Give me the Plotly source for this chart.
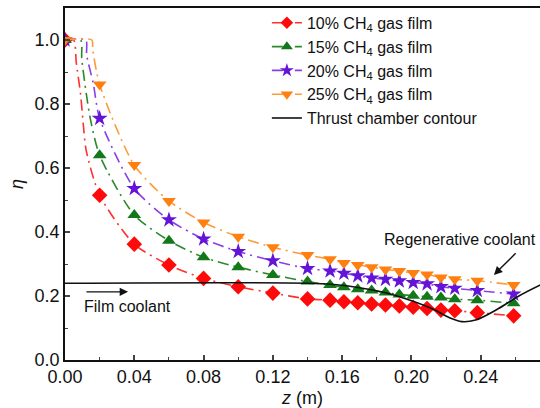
import plotly.graph_objects as go

# Axial positions (m) where the film-cooling effectiveness was sampled
z_samples = [0.0, 0.02, 0.04, 0.06, 0.08, 0.10, 0.12, 0.14, 0.153, 0.161, 0.169,
             0.177, 0.185, 0.193, 0.201, 0.209, 0.217, 0.225, 0.238, 0.259]

# Cooling effectiveness eta for each CH4 gas-film fraction
eta_10 = [1.0, 0.515, 0.362, 0.297, 0.255, 0.229, 0.209, 0.191, 0.187, 0.182, 0.179,
          0.175, 0.172, 0.169, 0.165, 0.161, 0.156, 0.154, 0.148, 0.138]
eta_15 = [1.0, 0.640, 0.453, 0.373, 0.321, 0.290, 0.266, 0.245, 0.234, 0.227, 0.221,
          0.217, 0.211, 0.205, 0.201, 0.198, 0.195, 0.190, 0.187, 0.177]
eta_20 = [1.0, 0.755, 0.536, 0.438, 0.378, 0.339, 0.310, 0.286, 0.278, 0.271, 0.263,
          0.256, 0.252, 0.247, 0.242, 0.238, 0.229, 0.224, 0.217, 0.206]
eta_25 = [1.0, 0.861, 0.609, 0.497, 0.430, 0.385, 0.352, 0.328, 0.315, 0.303, 0.297,
          0.290, 0.283, 0.278, 0.272, 0.267, 0.258, 0.252, 0.248, 0.234]

# Near-injector part of each curve (plateau and sharp drop), drawn as line only
knee_z_10 = [0.005, 0.0065, 0.009, 0.0105, 0.0122]
knee_eta_10 = [1.0, 0.93, 0.83, 0.74, 0.656]
knee_z_15 = [0.009, 0.0097, 0.0144]
knee_eta_15 = [1.0, 0.94, 0.76]
knee_z_20 = [0.012, 0.0125, 0.0163]
knee_eta_20 = [1.0, 0.953, 0.865]
knee_z_25 = [0.0155, 0.016]
knee_eta_25 = [1.0, 0.97]

# Thrust chamber wall contour (scaled onto the eta axis)
contour_z = [0.0, 0.14, 0.155, 0.17, 0.185, 0.20, 0.212, 0.222, 0.229, 0.237,
             0.25, 0.262, 0.275]
contour_eta = [0.24, 0.24, 0.236, 0.226, 0.21, 0.185, 0.16, 0.132, 0.12, 0.125,
               0.16, 0.2, 0.236]

series_names = ["10% CH<sub>4</sub> gas film", "15% CH<sub>4</sub> gas film",
                "20% CH<sub>4</sub> gas film", "25% CH<sub>4</sub> gas film"]
contour_name = "Thrust chamber contour"

FONT = "Liberation Sans, Arial, Helvetica, sans-serif"

styles = [
    dict(color="#ff0a0a", symbol="diamond", size=12),
    dict(color="#13781a", symbol="triangle-up", size=12),
    dict(color="#6414d6", symbol="star", size=12),
    dict(color="#ff8010", symbol="triangle-down", size=12),
]
line_colors = ["#ff3030", "#2a8a2a", "#8a3fe6", "#ff9a3a"]

all_eta = [eta_10, eta_15, eta_20, eta_25]
all_knee = [(knee_z_10, knee_eta_10), (knee_z_15, knee_eta_15),
            (knee_z_20, knee_eta_20), (knee_z_25, knee_eta_25)]

fig = go.Figure()

for name, eta, (kz, ke), st, lc in zip(series_names, all_eta, all_knee, styles, line_colors):
    # merge sampled points (with markers) and knee points (line only)
    pts = [(z, e, st["size"]) for z, e in zip(z_samples, eta)]
    pts += [(z, e, 0) for z, e in zip(kz, ke)]
    pts.sort(key=lambda p: p[0])
    fig.add_trace(go.Scatter(
        x=[p[0] for p in pts], y=[p[1] for p in pts],
        mode="lines+markers", name=name,
        line=dict(color=lc, width=1.6, dash="11px,5px,2px,5px",
                  shape="spline", smoothing=0.7),
        marker=dict(color=st["color"], symbol=st["symbol"], opacity=1,
                    size=[p[2] for p in pts], line=dict(width=0)),
    ))

fig.add_trace(go.Scatter(
    x=contour_z, y=contour_eta, mode="lines", name=contour_name,
    line=dict(color="#111111", width=1.6, shape="spline", smoothing=1.0),
))

# Film coolant label with arrow
fig.add_annotation(x=0.0364, y=0.213, ax=0.0115, ay=0.213, axref="x", ayref="y",
                   xref="x", yref="y", text="", showarrow=True,
                   arrowhead=2, arrowsize=1.2, arrowwidth=1.4, arrowcolor="#111111")
fig.add_annotation(x=0.0098, y=0.168, xref="x", yref="y", text="Film coolant",
                   showarrow=False, xanchor="left", yanchor="middle",
                   font=dict(family=FONT, size=16, color="#111111"))

# Regenerative coolant label with arrow
fig.add_annotation(x=0.2476, y=0.266, ax=0.261, ay=0.338, axref="x", ayref="y",
                   xref="x", yref="y", text="", showarrow=True,
                   arrowhead=2, arrowsize=1.2, arrowwidth=1.4, arrowcolor="#111111")
fig.add_annotation(x=0.2733, y=0.377, xref="x", yref="y", text="Regenerative coolant",
                   showarrow=False, xanchor="right", yanchor="middle",
                   font=dict(family=FONT, size=16, color="#111111"))

fig.update_layout(
    width=540, height=408,
    margin=dict(l=65, r=0, t=8, b=48),
    paper_bgcolor="white", plot_bgcolor="white",
    font=dict(family=FONT, color="#111111"),
    showlegend=True,
    legend=dict(x=0.425, y=1.006, xanchor="left", yanchor="top",
                bgcolor="rgba(0,0,0,0)", borderwidth=0,
                font=dict(family=FONT, size=16, color="#111111"),
                tracegroupgap=0),
    xaxis=dict(
        range=[0, 0.2742], tickmode="linear", tick0=0, dtick=0.04,
        tickformat=".2f", ticks="inside", ticklen=5, tickwidth=1.5,
        showline=True, linewidth=1.6, linecolor="#111111", mirror=True,
        showgrid=False, zeroline=False,
        tickfont=dict(family=FONT, size=18, color="#111111"),
        minor=dict(dtick=0.02, ticks="inside", ticklen=3, tickwidth=1.3),
        title=dict(text="<i>z</i> (m)", font=dict(family=FONT, size=18), standoff=6),
    ),
    yaxis=dict(
        range=[0, 1.1], tickmode="linear", tick0=0, dtick=0.2,
        tickformat=".1f", ticks="inside", ticklen=5, tickwidth=1.5,
        showline=True, linewidth=1.6, linecolor="#111111", mirror=False,
        showgrid=False, zeroline=False,
        tickfont=dict(family=FONT, size=18, color="#111111"),
        minor=dict(dtick=0.1, ticks="inside", ticklen=3, tickwidth=1.3),
        title=dict(text="<i>η</i>", font=dict(family=FONT, size=18), standoff=6),
    ),
)

fig.write_html("out.html")
